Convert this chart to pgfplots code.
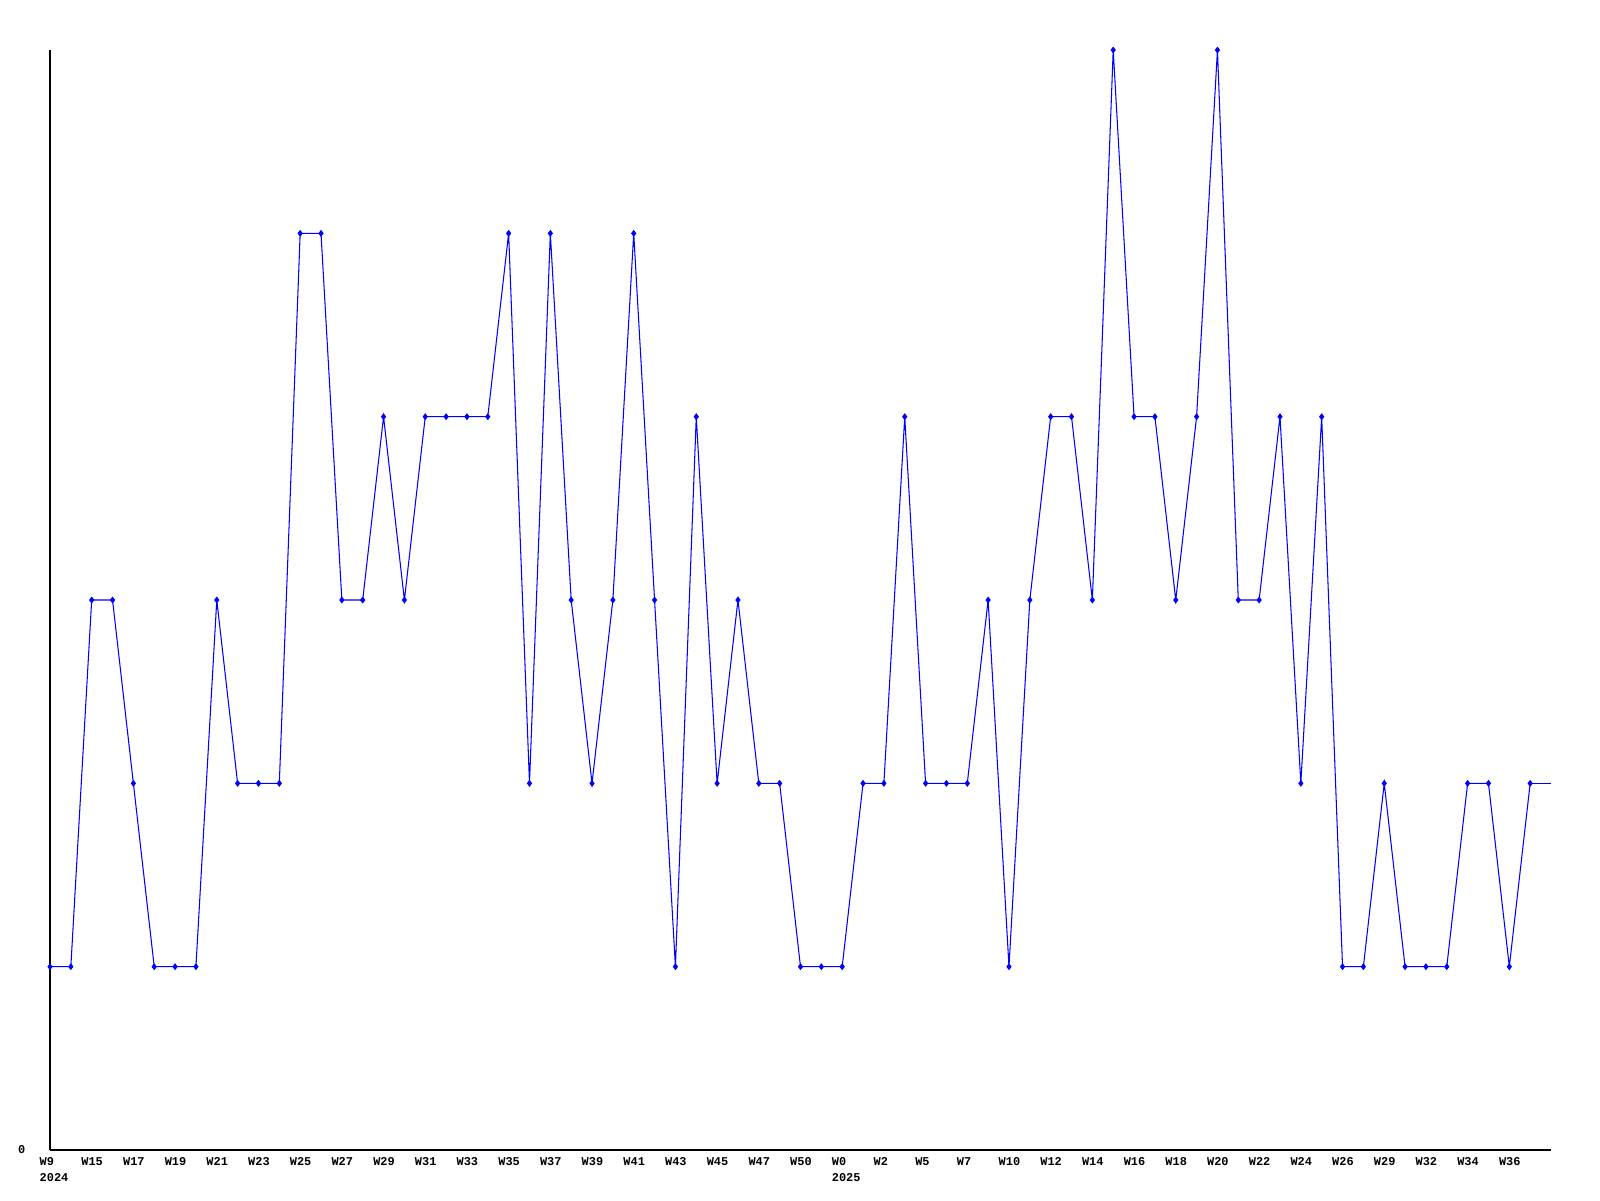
\documentclass[border=0pt]{standalone}
\usepackage{fontspec}
\setmainfont{Liberation Mono}
\usepackage{pgfplots}
\pgfplotsset{compat=1.18}
\begin{document}
\begin{tikzpicture}
\path[use as bounding box] (-0.5cm,-0.5cm) rectangle (15.5cm,11.5cm);
\begin{axis}[
  at={(0,0)}, anchor=south west,
  scale only axis, width=15.01cm, height=11cm,
  xmin=0, xmax=72, ymin=0, ymax=6,
  axis x line*=bottom, axis y line*=left,
  axis line style={black, line width=0.3pt, -},
  clip=false,
  major tick length=0pt,
  ytick={0}, yticklabels={0},
  yticklabel style={font=\fontsize{3.4}{4.5}\selectfont\bfseries, anchor=east, inner sep=0pt, xshift=-0.24cm},
  xtick={0,2,...,70},
  xticklabels={{W9\\2024},W15,W17,W19,W21,W23,W25,W27,W29,W31,W33,W35,W37,W39,W41,W43,W45,W47,W50,{W0\\2025},W2,W5,W7,W10,W12,W14,W16,W18,W20,W22,W24,W26,W29,W32,W34,W36},
  xticklabel style={font=\fontsize{3.4}{4.6}\selectfont\bfseries, anchor=north west, align=left, inner sep=0pt, xshift=-0.11cm, yshift=-0.07cm},
  /pgf/number format/assume math mode=true,
]
\addplot[color={rgb,255:red,0;green,0;blue,255}, line width=0.3pt, mark=diamond*, mark size=0.75pt] coordinates {
(0,1)(1,1)(2,3)(3,3)(4,2)(5,1)(6,1)(7,1)(8,3)(9,2)(10,2)(11,2)(12,5)(13,5)(14,3)(15,3)(16,4)(17,3)(18,4)(19,4)
(20,4)(21,4)(22,5)(23,2)(24,5)(25,3)(26,2)(27,3)(28,5)(29,3)(30,1)(31,4)(32,2)(33,3)(34,2)(35,2)(36,1)(37,1)(38,1)(39,2)
(40,2)(41,4)(42,2)(43,2)(44,2)(45,3)(46,1)(47,3)(48,4)(49,4)(50,3)(51,6)(52,4)(53,4)(54,3)(55,4)(56,6)(57,3)(58,3)(59,4)
(60,2)(61,4)(62,1)(63,1)(64,2)(65,1)(66,1)(67,1)(68,2)(69,2)(70,1)(71,2)
};
\addplot[color={rgb,255:red,0;green,0;blue,255}, line width=0.3pt, no marks] coordinates {(71,2)(72,2)};
\end{axis}
\end{tikzpicture}
\end{document}
